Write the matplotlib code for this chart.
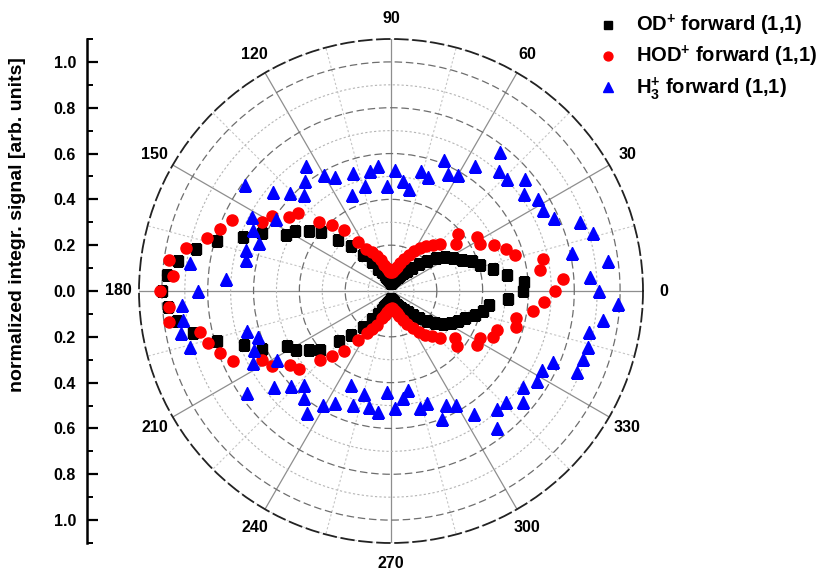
import numpy as np
import matplotlib
matplotlib.use("Agg")
import matplotlib.pyplot as plt
from matplotlib.ticker import MultipleLocator, FixedLocator

plt.rcParams['font.family'] = ['Liberation Sans', 'DejaVu Sans']
plt.rcParams['mathtext.fontset'] = 'custom'
plt.rcParams['mathtext.rm'] = 'Liberation Sans:bold'
plt.rcParams['mathtext.it'] = 'Liberation Sans:bold'
plt.rcParams['mathtext.bf'] = 'Liberation Sans:bold'

# ── data (angle in degrees, normalized signal) ───────────────────────────────
ANGLES = np.arange(0, 360, 4)

OD_R = [
    0.575, 0.582, 0.511, 0.455, 0.406, 0.378, 0.338, 0.308, 0.280, 0.245,
    0.205, 0.170, 0.138, 0.112, 0.094, 0.080, 0.070, 0.063, 0.056, 0.050,
    0.045, 0.040, 0.036, 0.036, 0.042, 0.048, 0.055, 0.064, 0.075, 0.090,
    0.112, 0.152, 0.202, 0.264, 0.319, 0.401, 0.444, 0.492, 0.519, 0.618,
    0.686, 0.788, 0.872, 0.941, 0.978, 1.000, 0.976, 0.944, 0.882, 0.788,
    0.684, 0.618, 0.515, 0.488, 0.441, 0.402, 0.317, 0.260, 0.199, 0.150,
    0.115, 0.092, 0.076, 0.065, 0.056, 0.050, 0.044, 0.038, 0.035, 0.040,
    0.045, 0.050, 0.058, 0.066, 0.076, 0.088, 0.100, 0.118, 0.141, 0.170,
    0.205, 0.238, 0.268, 0.297, 0.320, 0.345, 0.381, 0.410, 0.434, 0.514,
]

HOD_R = [
    0.716, 0.752, 0.655, 0.678, 0.564, 0.536, 0.490, 0.438, 0.445, 0.349,
    0.384, 0.296, 0.271, 0.250, 0.225, 0.200, 0.175, 0.150, 0.127, 0.110,
    0.097, 0.088, 0.082, 0.082, 0.088, 0.100, 0.118, 0.140, 0.165, 0.190,
    0.214, 0.258, 0.336, 0.385, 0.434, 0.530, 0.550, 0.614, 0.639, 0.758,
    0.795, 0.834, 0.913, 0.977, 0.953, 1.010, 0.970, 0.977, 0.852, 0.829,
    0.795, 0.754, 0.638, 0.615, 0.547, 0.527, 0.431, 0.383, 0.334, 0.257,
    0.213, 0.185, 0.160, 0.125, 0.108, 0.095, 0.085, 0.078, 0.076, 0.080,
    0.088, 0.100, 0.115, 0.135, 0.160, 0.188, 0.215, 0.243, 0.265, 0.295,
    0.376, 0.346, 0.442, 0.441, 0.489, 0.492, 0.568, 0.557, 0.624, 0.670,
]

H3_THETA = list(range(0, 184, 4)) + [
    183.8, 187.9, 191.4, 195.5, 195.4, 199.0, 203.3, 207.4, 211.1, 215.3,
    219.5, 223.4, 227.2, 231.0, 235.3, 239.3, 243.5, 246.8, 251.4, 255.3,
    259.4, 263.8, 267.6, 272.0, 276.4, 280.0, 283.8, 287.8, 291.6, 295.8,
    299.7, 304.0, 307.7, 312.0, 316.1, 320.1, 324.1, 328.4, 332.3, 336.5,
    336.5, 340.4, 344.2, 348.4, 352.2, 356.7,
]
H3_R = [
    0.906, 0.869, 0.955, 0.808, 0.919, 0.878, 0.780, 0.751, 0.756, 0.720,
    0.761, 0.705, 0.703, 0.771, 0.657, 0.586, 0.566, 0.618, 0.525, 0.538,
    0.450, 0.483, 0.529, 0.459, 0.549, 0.534, 0.472, 0.543, 0.453, 0.556,
    0.586, 0.660, 0.607, 0.566, 0.613, 0.672, 0.788, 0.594, 0.689, 0.657,
    0.613, 0.657, 0.649, 0.887, 0.724, 0.841,
    0.916, 0.916, 0.933, 0.911, 0.653, 0.613, 0.651, 0.680, 0.583, 0.772,
    0.662, 0.603, 0.559, 0.603, 0.646, 0.579, 0.547, 0.447, 0.524, 0.463,
    0.514, 0.530, 0.442, 0.512, 0.470, 0.439, 0.528, 0.514, 0.602, 0.553,
    0.573, 0.648, 0.758, 0.694, 0.697, 0.753, 0.713, 0.747, 0.743, 0.773,
    0.884, 0.889, 0.895, 0.884, 0.936, 0.994,
]

ANGLE_LABELS = list(range(0, 360, 30))
R_MAX = 1.1

# ── figure ───────────────────────────────────────────────────────────────────
W, H = 831, 576
fig = plt.figure(figsize=(W / 100, H / 100), dpi=100, facecolor="white")

box = [139 / W, 33 / H, 504 / W, 504 / H]
ax = fig.add_axes(box, projection="polar")
ax.set_ylim(0, R_MAX)

ax.set_xticks(np.deg2rad(ANGLE_LABELS))
ax.set_xticklabels([])
ax.xaxis.set_minor_locator(FixedLocator(np.deg2rad(np.arange(15, 360, 30))))
ax.set_yticks([0.2, 0.4, 0.6, 0.8, 1.0])
ax.set_yticklabels([])
ax.yaxis.set_minor_locator(MultipleLocator(0.1))
ax.tick_params(axis="y", which="both", length=0)
ax.tick_params(axis="x", which="major", direction="in", length=6, width=1.0, color="black")
ax.tick_params(axis="x", which="minor", direction="in", length=4, width=1.0, color="black")

ax.grid(which="major", axis="y", color="#6e6e6e", ls=(0, (6, 3)), lw=0.9)
ax.grid(which="minor", axis="y", color="#b5b5b5", ls=(0, (2, 2)), lw=0.8)
ax.grid(which="major", axis="x", color="#8e8e8e", ls="-", lw=0.9)
ax.grid(which="minor", axis="x", color="#c5c5c5", ls=(0, (2, 2)), lw=0.8)

ax.spines["polar"].set_linestyle((0, (7, 3)))
ax.spines["polar"].set_linewidth(1.3)
ax.spines["polar"].set_color("#222222")

for a in ANGLE_LABELS:
    ax.text(np.deg2rad(a), 1.19, str(a), ha="center", va="center",
            fontsize=11.5, fontweight="bold")

ax.plot(np.deg2rad(ANGLES), OD_R, ls="none", marker="s", ms=7,
        color="black", label=r"OD$^{+}$ forward (1,1)")
ax.plot(np.deg2rad(ANGLES), HOD_R, ls="none", marker="o", ms=8,
        color="#ff0000", label=r"HOD$^{+}$ forward (1,1)")
ax.plot(np.deg2rad(H3_THETA), H3_R, ls="none", marker="^", ms=8.5,
        color="#0000ff", label=r"H$_{3}^{+}$ forward (1,1)")

fig.legend(loc="upper left", bbox_to_anchor=(590 / W, 1 - 5 / H),
           frameon=False, prop={"weight": "bold", "size": 14.5},
           handlelength=1.0, handletextpad=0.9, labelspacing=0.28,
           borderaxespad=0, markerscale=0.8)

# ── left radial scale ────────────────────────────────────────────────────────
ax2 = fig.add_axes([87 / W, 33 / H, 0.0001, 504 / H])
ax2.set_ylim(-R_MAX, R_MAX)
ax2.patch.set_visible(False)
for side in ("top", "right", "bottom"):
    ax2.spines[side].set_visible(False)
ax2.spines["left"].set_linewidth(1.8)
ax2.set_xticks([])
ticks = np.round(np.arange(-1.0, 1.01, 0.2), 1)
ax2.set_yticks(ticks)
ax2.set_yticklabels([f"{abs(t):.1f}" for t in ticks], fontsize=11.5, fontweight="bold")
ax2.yaxis.set_minor_locator(MultipleLocator(0.1))
ax2.tick_params(axis="y", which="major", direction="in", length=8, width=1.6, pad=8)
ax2.tick_params(axis="y", which="minor", direction="in", length=4, width=1.4)

fig.text(18 / W, 1 - 225 / H, "normalized integr. signal [arb. units]",
         rotation=90, ha="center", va="center", fontsize=14, fontweight="bold")

fig.savefig("out.png", dpi=100)
